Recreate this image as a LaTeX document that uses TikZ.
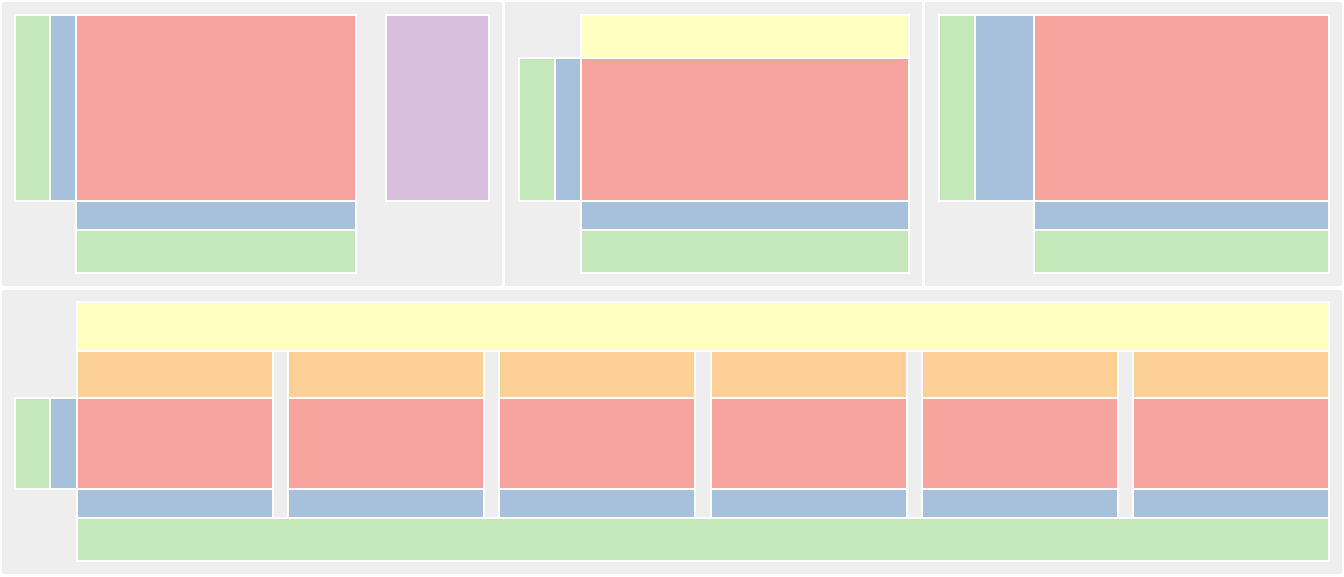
\documentclass[tikz,border=0pt]{standalone}
\usepackage{tikz}

\definecolor{panelgray}{HTML}{EEEEEE}
\definecolor{cellred}{HTML}{F8A49E}
\definecolor{cellblue}{HTML}{A7C1DC}
\definecolor{cellgreen}{HTML}{C4E8B9}
\definecolor{cellpurple}{HTML}{D8BEDD}
\definecolor{cellorange}{HTML}{FCD096}
\definecolor{cellyellow}{HTML}{FFFFC1}

\tikzset{
    panel/.style={fill=panelgray, draw=white, line width=1.2pt},
    cell/.style={draw=white, line width=1.1pt},
}

\begin{document}
\begin{tikzpicture}[x=0.02cm, y=-0.02cm]

    \useasboundingbox (0,0) rectangle (1344,576);
    \fill[panelgray] (0,0) rectangle (1344,576);

    % =====================================================
    % PANELS
    % =====================================================
    \draw[panel] (1,1) rectangle (503,287);
    \draw[panel] (504,1) rectangle (923,287);
    \draw[panel] (924,1) rectangle (1343,287);
    \draw[panel] (1,289) rectangle (1343,575);

    % =====================================================
    % TOP LEFT
    % =====================================================
    \draw[cell, fill=cellgreen] (15,15) rectangle (50,201);
    \draw[cell, fill=cellblue] (50,15) rectangle (76,201);
    \draw[cell, fill=cellred] (76,15) rectangle (356,201);
    \draw[cell, fill=cellblue] (76,201) rectangle (356,230);
    \draw[cell, fill=cellgreen] (76,230) rectangle (356,273);
    \draw[cell, fill=cellpurple] (386,15) rectangle (489,201);

    % =====================================================
    % TOP MIDDLE
    % =====================================================
    \draw[cell, fill=cellyellow] (581,15) rectangle (909,58);
    \draw[cell, fill=cellgreen] (519,58) rectangle (555,201);
    \draw[cell, fill=cellblue] (555,58) rectangle (581,201);
    \draw[cell, fill=cellred] (581,58) rectangle (909,201);
    \draw[cell, fill=cellblue] (581,201) rectangle (909,230);
    \draw[cell, fill=cellgreen] (581,230) rectangle (909,273);

    % =====================================================
    % TOP RIGHT
    % =====================================================
    \draw[cell, fill=cellgreen] (939,15) rectangle (975,201);
    \draw[cell, fill=cellblue] (975,15) rectangle (1034,201);
    \draw[cell, fill=cellred] (1034,15) rectangle (1329,201);
    \draw[cell, fill=cellblue] (1034,201) rectangle (1329,230);
    \draw[cell, fill=cellgreen] (1034,230) rectangle (1329,273);

    % =====================================================
    % BOTTOM: SIX COLUMNS
    % =====================================================
    \draw[cell, fill=cellyellow] (77,302) rectangle (1329,351);
    \draw[cell, fill=cellgreen] (15,398) rectangle (50,489);
    \draw[cell, fill=cellblue] (50,398) rectangle (77,489);

    \foreach \x in {77, 288, 499, 711, 922, 1133} {
        \draw[cell, fill=cellorange] (\x,351) rectangle (\x+196,398);
        \draw[cell, fill=cellred] (\x,398) rectangle (\x+196,489);
        \draw[cell, fill=cellblue] (\x,489) rectangle (\x+196,518);
    }

    \draw[cell, fill=cellgreen] (77,518) rectangle (1329,561);

\end{tikzpicture}
\end{document}
